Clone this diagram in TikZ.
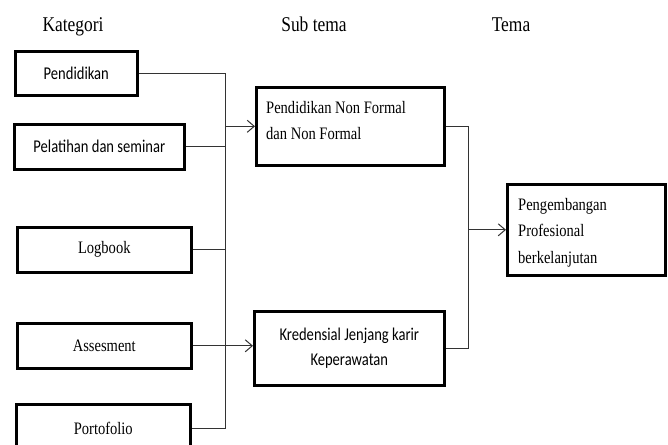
\documentclass[tikz,border=0pt]{standalone}
\usepackage{fontspec}
\setmainfont{Liberation Serif}[FakeStretch=0.83]
\newfontfamily\calibri{Carlito}[FakeStretch=0.81]
\usetikzlibrary{arrows.meta}

\tikzset{
    head/.style={anchor=base, inner sep=0pt, font=\fontsize{21}{25}\selectfont},
    box/.style={draw, line width=2.6pt, anchor=north west, inner sep=0pt},
    sanstext/.style={font=\calibri\fontsize{18}{25}\selectfont},
    sertext/.style={font=\fontsize{17.5}{26.5}\selectfont},
    conn/.style={draw=black!80, line width=1pt},
}

\begin{document}
\begin{tikzpicture}[x=1pt, y=-1pt, >={Straight Barb[length=7pt,width=12pt]}]
\useasboundingbox (0,0) rectangle (668,444);
\clip (0,0) rectangle (668,444);

% column heads
\node[head] (hkat) at (73,31) {Kategori};
\node[head] (hsub) at (314,31) {Sub tema};
\node[head] (htema) at (511,31) {Tema};

% kategori
\node[box, sanstext, minimum width=122pt, minimum height=44pt] (kat1) at (14,50) {Pendidikan};
\node[box, sanstext, minimum width=170pt, minimum height=45pt] (kat2) at (13,123) {Pelatihan dan seminar};
\node[box, sertext, minimum width=174pt, minimum height=45pt] (kat3) at (16,226) {Logbook};
\node[box, sertext, minimum width=174pt, minimum height=45pt] (kat4) at (16,322) {Assesment};
\node[box, sertext, minimum width=174pt, minimum height=48pt] (kat5) at (15,403) {Portofolio};

% sub tema
\node[box, minimum width=188pt, minimum height=78pt] (sub1) at (255,86) {};
\node[sertext, anchor=north west, align=left, inner sep=0pt] (sub1txt)
    at ([shift={(11,15)}]sub1.north west) {Pendidikan Non Formal\\dan Non Formal};
\node[box, sanstext, align=center, minimum width=190pt, minimum height=74pt] (sub2) at (253,310)
    {Kredensial Jenjang karir\\Keperawatan};

% tema
\node[box, minimum width=158pt, minimum height=91pt] (tema) at (506,183) {};
\node[sertext, anchor=north west, align=left, inner sep=0pt] (tematxt)
    at ([shift={(12,15)}]tema.north west) {Pengembangan\\Profesional\\berkelanjutan};

% connectors
\coordinate (bus) at (225,0);
\coordinate (rbus) at (468,0);

\draw[conn] (kat1.east) -- (kat1.east -| bus) -- (kat5.east -| bus) -- (kat5.east);
\draw[conn] (kat2.east) -- (kat2.east -| bus);
\draw[conn] (kat3.east) -- (kat3.east -| bus);
\draw[conn, ->] (sub1.west -| bus) -- (sub1.west);
\draw[conn, ->] (kat4.east) -- (kat4.east -| sub2.west);

\draw[conn] (sub1.east) -- (sub1.east -| rbus) -- (sub2.east -| rbus) -- (sub2.east);
\draw[conn, ->] (tema.west -| rbus) -- (tema.west);

\end{tikzpicture}
\end{document}
